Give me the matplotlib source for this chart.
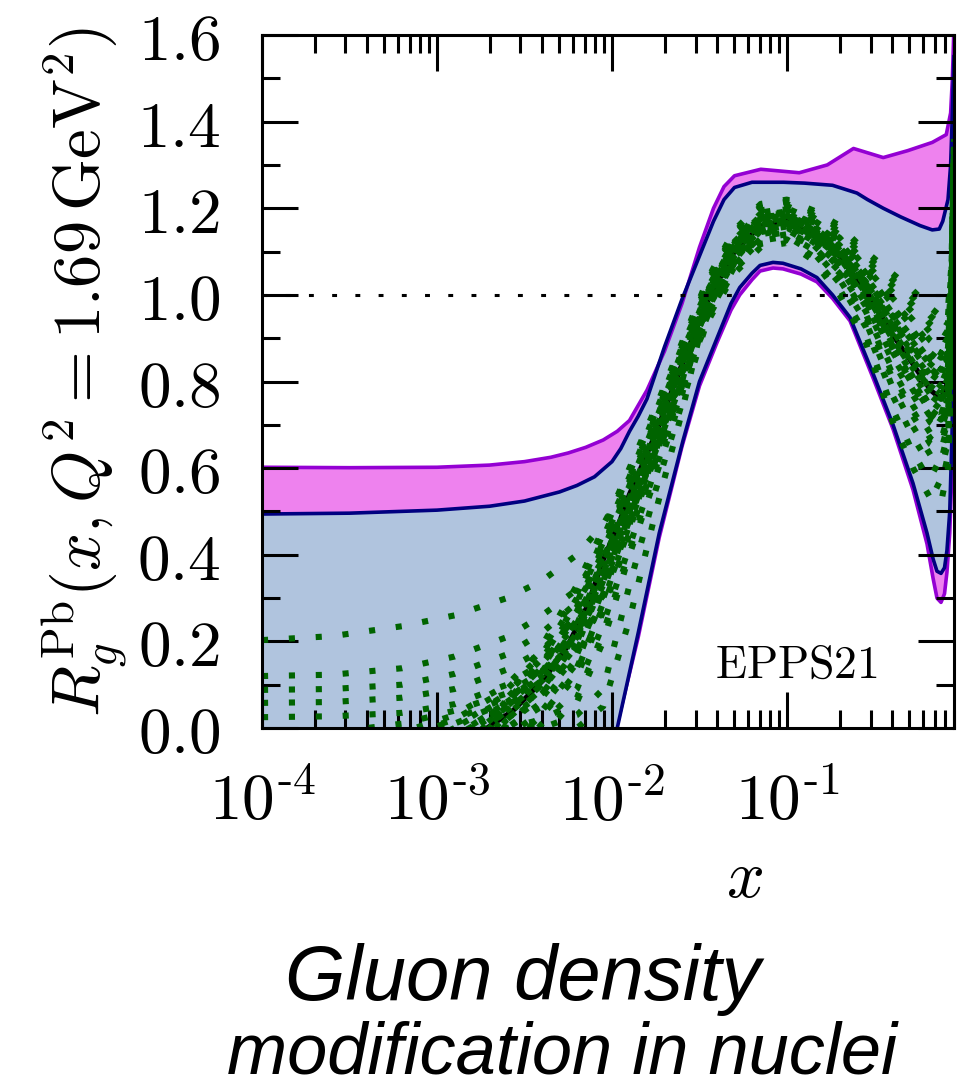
import numpy as np
import matplotlib
matplotlib.use("Agg")
import matplotlib.pyplot as plt
from matplotlib.ticker import FixedLocator, LogLocator, NullFormatter

plt.rcParams['mathtext.fontset'] = 'cm'

# ---------------- data (x given as log10 x) ----------------
# outer (magenta) band
mag_hi_logx = [-4.0, -3.5, -3.0, -2.7, -2.5, -2.35, -2.25, -2.15, -2.05, -1.97, -1.9, -1.8,
               -1.7, -1.6, -1.5, -1.42, -1.36, -1.3, -1.15, -0.93, -0.77, -0.62, -0.45,
               -0.31, -0.17, -0.09, -0.065, -0.055, -0.046]
mag_hi = [0.602, 0.601, 0.602, 0.607, 0.615, 0.625, 0.635, 0.648, 0.665, 0.685, 0.71, 0.78,
          0.87, 0.98, 1.11, 1.20, 1.25, 1.275, 1.29, 1.282, 1.30, 1.338, 1.317,
          1.333, 1.352, 1.37, 1.42, 1.50, 1.62]
mag_lo_logx = [-4.0, -3.0, -2.5, -2.2, -2.05, -1.975, -1.85, -1.73, -1.6, -1.5, -1.4, -1.32,
               -1.27, -1.2, -1.154, -1.08, -1.023, -0.92, -0.829, -0.74, -0.64, -0.51, -0.394,
               -0.28, -0.20, -0.165, -0.143, -0.12, -0.1, -0.086, -0.07, -0.057, -0.046]
mag_lo = [-3.0, -1.8, -0.8, -0.35, -0.1, 0.0, 0.21, 0.44, 0.65, 0.79, 0.89, 0.965,
          1.0, 1.035, 1.055, 1.062, 1.06, 1.048, 1.03, 0.992, 0.94, 0.81, 0.69,
          0.55, 0.425, 0.345, 0.30, 0.29, 0.31, 0.36, 0.45, 0.60, 0.99]

# inner (blue) band
blu_hi_logx = [-4.0, -3.5, -3.0, -2.7, -2.5, -2.3, -2.2, -2.1, -2.0, -1.95, -1.9, -1.85,
               -1.8, -1.7, -1.6, -1.5, -1.42, -1.36, -1.3, -1.2, -1.02, -0.9, -0.74,
               -0.6, -0.54, -0.45, -0.35, -0.24, -0.17, -0.13, -0.11, -0.08, -0.065,
               -0.055, -0.046]
blu_hi = [0.494, 0.496, 0.503, 0.512, 0.524, 0.545, 0.56, 0.58, 0.615, 0.645, 0.685, 0.72,
          0.76, 0.88, 0.99, 1.09, 1.17, 1.22, 1.248, 1.26, 1.26, 1.258, 1.253,
          1.235, 1.22, 1.20, 1.18, 1.16, 1.15, 1.152, 1.17, 1.22, 1.30,
          1.42, 1.55]
blu_lo_logx = [-4.0, -3.0, -2.5, -2.2, -2.05, -1.97, -1.85, -1.73, -1.594, -1.5, -1.4, -1.32,
               -1.27, -1.2, -1.154, -1.08, -1.023, -0.92, -0.829, -0.74, -0.64, -0.51, -0.394,
               -0.28, -0.20, -0.165, -0.143, -0.12, -0.1, -0.086, -0.07, -0.057, -0.046]
blu_lo = [-3.0, -1.8, -0.8, -0.35, -0.1, 0.0, 0.22, 0.45, 0.664, 0.80, 0.90, 0.98,
          1.017, 1.05, 1.068, 1.075, 1.073, 1.06, 1.04, 1.0, 0.948, 0.82, 0.70,
          0.565, 0.45, 0.39, 0.362, 0.357, 0.37, 0.41, 0.50, 0.68, 0.99]

# central fit
central_logx = [-4.0, -3.6, -3.2, -2.9, -2.714, -2.566, -2.394, -2.257, -2.143, -2.051, -1.954,
                -1.9, -1.75, -1.6, -1.45, -1.3, -1.15, -1.0, -0.85, -0.7, -0.55, -0.4,
                -0.28, -0.18, -0.12, -0.08, -0.06, -0.046]
central = [-1.2, -0.9, -0.5, -0.08, 0.0, 0.04, 0.11, 0.187, 0.28, 0.387, 0.48,
           0.54, 0.68, 0.84, 0.99, 1.10, 1.16, 1.17, 1.14, 1.09, 1.01, 0.91,
           0.84, 0.78, 0.76, 0.80, 0.95, 1.30]

# error-set members (green dotted)
members_logx = [-4.0, -3.6, -3.2, -2.9, -2.6, -2.4, -2.2, -2.05, -1.9, -1.75, -1.6,
                -1.45, -1.3, -1.15, -1.0, -0.85, -0.7, -0.55, -0.4, -0.28, -0.18, -0.12,
                -0.08, -0.06, -0.046]
member_01 = [0.203, 0.212, 0.235, 0.26, 0.30, 0.34, 0.40, 0.47, 0.58, 0.72, 0.88,
             1.035, 1.145, 1.205, 1.215, 1.19, 1.153, 1.091, 1.036, 0.993, 0.951, 0.931,
             0.953, 1.058, 1.354]
member_02 = [0.12, 0.123, 0.138, 0.165, 0.21, 0.26, 0.32, 0.42, 0.55, 0.69, 0.85,
             1.015, 1.125, 1.185, 1.195, 1.168, 1.125, 1.055, 0.98, 0.925, 0.875, 0.855,
             0.885, 1.01, 1.33]
member_03 = [0.088, 0.09, 0.10, 0.125, 0.17, 0.22, 0.29, 0.39, 0.52, 0.67, 0.83,
             0.975, 1.085, 1.145, 1.155, 1.122, 1.063, 0.974, 0.85, 0.768, 0.705, 0.688,
             0.74, 0.908, 1.279]
member_04 = [0.058, 0.06, 0.07, 0.09, 0.135, 0.18, 0.26, 0.37, 0.51, 0.66, 0.82,
             1.0, 1.11, 1.17, 1.18, 1.151, 1.104, 1.028, 0.938, 0.874, 0.818, 0.798,
             0.834, 0.974, 1.312]
member_05 = [0.025, 0.027, 0.035, 0.055, 0.10, 0.15, 0.24, 0.36, 0.50, 0.65, 0.81,
             0.955, 1.065, 1.125, 1.135, 1.098, 1.027, 0.926, 0.77, 0.672, 0.605, 0.592,
             0.66, 0.852, 1.251]
member_06 = [-0.03, -0.01, 0.01, 0.04, 0.08, 0.13, 0.22, 0.34, 0.49, 0.64, 0.80,
             1.025, 1.135, 1.195, 1.205, 1.179, 1.139, 1.073, 1.008, 0.959, 0.913, 0.893,
             0.919, 1.034, 1.342]
member_07 = [-0.12, -0.07, -0.02, 0.02, 0.07, 0.12, 0.21, 0.33, 0.48, 0.64, 0.80,
             0.94, 1.05, 1.11, 1.12, 1.08, 1.0, 0.89, 0.71, 0.60, 0.53, 0.52,
             0.60, 0.81, 1.23]
member_08 = [-0.3, -0.2, -0.1, -0.02, 0.05, 0.11, 0.22, 0.35, 0.50, 0.66, 0.82,
             0.99, 1.10, 1.16, 1.17, 1.14, 1.09, 1.01, 0.91, 0.84, 0.78, 0.76,
             0.80, 0.95, 1.30]
member_09 = [-0.8, -0.6, -0.35, -0.1, 0.06, 0.16, 0.28, 0.42, 0.56, 0.70, 0.86,
             0.965, 1.075, 1.135, 1.145, 1.11, 1.045, 0.95, 0.81, 0.72, 0.655, 0.64,
             0.70, 0.88, 1.265]
member_10 = [-1.0, -0.75, -0.45, -0.15, 0.07, 0.19, 0.33, 0.46, 0.60, 0.74, 0.89,
             1.04, 1.15, 1.21, 1.22, 1.195, 1.16, 1.10, 1.05, 1.01, 0.97, 0.95,
             0.97, 1.07, 1.36]
member_11 = [-1.5, -1.0, -0.55, -0.25, -0.05, 0.03, 0.12, 0.27, 0.45, 0.62, 0.79,
             0.98, 1.09, 1.15, 1.16, 1.128, 1.072, 0.986, 0.87, 0.792, 0.73, 0.712,
             0.76, 0.922, 1.286]
member_12 = [-1.2, -0.8, -0.4, -0.15, 0.0, 0.02, 0.06, 0.20, 0.40, 0.58, 0.77,
             1.01, 1.12, 1.18, 1.19, 1.162, 1.118, 1.046, 0.966, 0.908, 0.856, 0.836,
             0.868, 0.998, 1.324]
member_13 = [-1.8, -1.3, -0.8, -0.4, -0.1, 0.0, 0.03, 0.09, 0.33, 0.55, 0.75,
             0.948, 1.058, 1.118, 1.128, 1.089, 1.014, 0.908, 0.74, 0.636, 0.568, 0.556,
             0.63, 0.831, 1.24]
member_14 = [-2.2, -1.6, -1.0, -0.6, -0.25, -0.05, 0.0, 0.05, 0.25, 0.50, 0.73,
             0.995, 1.105, 1.165, 1.175, 1.146, 1.097, 1.019, 0.924, 0.857, 0.799, 0.779,
             0.817, 0.962, 1.306]
member_15 = [-0.5, -0.35, -0.18, -0.05, 0.04, 0.10, 0.20, 0.33, 0.49, 0.66, 0.83,
             1.005, 1.115, 1.175, 1.185, 1.157, 1.111, 1.037, 0.952, 0.891, 0.837, 0.817,
             0.851, 0.986, 1.318]
member_16 = [-0.9, -0.65, -0.35, -0.12, 0.02, 0.08, 0.18, 0.31, 0.47, 0.64, 0.82,
             0.985, 1.095, 1.155, 1.165, 1.134, 1.081, 0.998, 0.89, 0.816, 0.755, 0.736,
             0.78, 0.936, 1.293]
member_17 = [-0.2, -0.12, -0.05, 0.01, 0.06, 0.12, 0.24, 0.38, 0.53, 0.69, 0.85,
             1.02, 1.13, 1.19, 1.20, 1.173, 1.132, 1.064, 0.994, 0.942, 0.894, 0.874,
             0.902, 1.022, 1.336]
member_18 = [-1.3, -0.9, -0.5, -0.2, 0.0, 0.06, 0.16, 0.30, 0.46, 0.63, 0.80,
             0.97, 1.08, 1.14, 1.15, 1.116, 1.054, 0.962, 0.83, 0.744, 0.68, 0.664,
             0.72, 0.894, 1.272]
member_19 = [-0.6, -0.4, -0.2, -0.05, 0.05, 0.12, 0.23, 0.37, 0.52, 0.68, 0.84,
             0.998, 1.108, 1.168, 1.178, 1.148, 1.1, 1.024, 0.931, 0.866, 0.809, 0.789,
             0.826, 0.968, 1.309]
member_20 = [-1.6, -1.1, -0.6, -0.3, -0.08, 0.01, 0.09, 0.24, 0.42, 0.60, 0.78,
             0.96, 1.07, 1.13, 1.14, 1.104, 1.036, 0.938, 0.79, 0.696, 0.63, 0.616,
             0.68, 0.866, 1.258]
member_21 = [-0.4, -0.28, -0.14, -0.03, 0.06, 0.14, 0.26, 0.40, 0.55, 0.70, 0.86,
             1.013, 1.123, 1.183, 1.193, 1.165, 1.122, 1.051, 0.973, 0.917, 0.866, 0.846,
             0.877, 1.004, 1.327]
member_22 = [-1.1, -0.8, -0.45, -0.18, 0.01, 0.07, 0.17, 0.32, 0.48, 0.65, 0.82,
             0.978, 1.088, 1.148, 1.158, 1.125, 1.068, 0.98, 0.86, 0.78, 0.718, 0.70,
             0.75, 0.915, 1.283]
member_23 = [-0.7, -0.5, -0.25, -0.08, 0.04, 0.11, 0.21, 0.36, 0.51, 0.67, 0.84,
             0.993, 1.103, 1.163, 1.173, 1.143, 1.094, 1.015, 0.917, 0.849, 0.79, 0.77,
             0.809, 0.956, 1.303]
member_24 = [-0.25, -0.15, -0.06, 0.0, 0.08, 0.16, 0.29, 0.43, 0.57, 0.72, 0.87,
             1.03, 1.14, 1.20, 1.21, 1.184, 1.146, 1.082, 1.022, 0.976, 0.932, 0.912,
             0.936, 1.046, 1.348]
member_25 = [-1.0, -0.7, -0.38, -0.14, 0.02, 0.09, 0.19, 0.34, 0.50, 0.66, 0.83,
             0.983, 1.093, 1.153, 1.163, 1.131, 1.077, 0.992, 0.88, 0.804, 0.743, 0.724,
             0.77, 0.929, 1.29]
member_26 = [-0.35, -0.22, -0.1, -0.02, 0.06, 0.13, 0.25, 0.39, 0.54, 0.70, 0.86,
             1.008, 1.118, 1.178, 1.188, 1.159, 1.115, 1.042, 0.959, 0.90, 0.847, 0.827,
             0.86, 0.992, 1.321]
member_27 = [-1.4, -1.0, -0.55, -0.25, -0.02, 0.04, 0.14, 0.28, 0.45, 0.62, 0.80,
             0.968, 1.078, 1.138, 1.148, 1.113, 1.05, 0.956, 0.82, 0.732, 0.668, 0.652,
             0.71, 0.887, 1.269]
member_28 = [-0.55, -0.38, -0.2, -0.06, 0.05, 0.13, 0.25, 0.38, 0.53, 0.69, 0.85,
             1.003, 1.113, 1.173, 1.183, 1.154, 1.108, 1.033, 0.945, 0.883, 0.828, 0.808,
             0.843, 0.98, 1.315]
member_29 = [-0.85, -0.6, -0.32, -0.1, 0.03, 0.10, 0.22, 0.36, 0.51, 0.67, 0.84,
             0.988, 1.098, 1.158, 1.168, 1.137, 1.086, 1.004, 0.90, 0.828, 0.768, 0.748,
             0.79, 0.943, 1.297]
member_30 = [-0.15, -0.09, -0.03, 0.02, 0.09, 0.17, 0.30, 0.44, 0.58, 0.73, 0.88,
             1.018, 1.128, 1.188, 1.198, 1.17, 1.129, 1.06, 0.987, 0.934, 0.885, 0.865,
             0.894, 1.016, 1.333]
member_31 = [-0.45, -0.3, -0.15, -0.03, 0.05, 0.12, 0.24, 0.39, 0.54, 0.69, 0.85,
             1.01, 1.12, 1.17, 1.17, 1.13, 1.07, 0.99, 0.90, 0.83, 0.77, 0.75,
             0.79, 0.94, 1.29]
member_32 = [-1.1, -0.8, -0.45, -0.15, 0.01, 0.08, 0.19, 0.34, 0.50, 0.67, 0.84,
             0.97, 1.08, 1.15, 1.175, 1.155, 1.11, 1.03, 0.93, 0.855, 0.79, 0.77,
             0.81, 0.955, 1.30]
member_33 = [-0.3, -0.2, -0.09, 0.0, 0.07, 0.15, 0.27, 0.41, 0.56, 0.71, 0.87,
             1.0, 1.115, 1.178, 1.19, 1.16, 1.105, 1.02, 0.90, 0.81, 0.74, 0.72,
             0.77, 0.93, 1.29]
member_34 = [-1.5, -1.1, -0.6, -0.3, -0.04, 0.03, 0.13, 0.29, 0.47, 0.64, 0.81,
             0.98, 1.09, 1.15, 1.16, 1.135, 1.095, 1.03, 0.95, 0.89, 0.84, 0.82,
             0.85, 0.98, 1.31]
member_35 = [-0.1, -0.06, -0.01, 0.03, 0.10, 0.18, 0.31, 0.45, 0.59, 0.73, 0.88,
             1.02, 1.125, 1.18, 1.185, 1.15, 1.09, 1.0, 0.88, 0.79, 0.72, 0.70,
             0.75, 0.91, 1.28]
member_36 = [-2.0, -1.4, -0.9, -0.5, -0.15, -0.02, 0.07, 0.22, 0.41, 0.60, 0.79,
             0.96, 1.075, 1.14, 1.16, 1.14, 1.10, 1.035, 0.955, 0.90, 0.85, 0.83,
             0.86, 0.99, 1.32]
member_37 = [-0.65, -0.45, -0.22, -0.06, 0.04, 0.11, 0.22, 0.37, 0.52, 0.68, 0.85,
             1.005, 1.11, 1.17, 1.18, 1.15, 1.1, 1.025, 0.935, 0.87, 0.815, 0.795,
             0.83, 0.97, 1.31]
member_38 = [-0.95, -0.7, -0.38, -0.12, 0.02, 0.09, 0.20, 0.35, 0.51, 0.67, 0.84,
             0.985, 1.1, 1.162, 1.17, 1.138, 1.085, 1.0, 0.885, 0.80, 0.735, 0.715,
             0.76, 0.92, 1.285]
member_39 = [-0.38, -0.25, -0.12, -0.02, 0.06, 0.14, 0.27, 0.42, 0.57, 0.71, 0.86,
             1.01, 1.118, 1.176, 1.182, 1.15, 1.1, 1.026, 0.94, 0.88, 0.83, 0.81,
             0.845, 0.98, 1.315]
member_40 = [-1.25, -0.9, -0.5, -0.2, 0.0, 0.05, 0.15, 0.31, 0.48, 0.65, 0.82,
             0.975, 1.088, 1.152, 1.166, 1.14, 1.092, 1.018, 0.92, 0.845, 0.78, 0.755,
             0.795, 0.945, 1.298]
members = [member_01, member_02, member_03, member_04, member_05, member_06, member_07,
           member_08, member_09, member_10, member_11, member_12, member_13, member_14,
           member_15, member_16, member_17, member_18, member_19, member_20, member_21,
           member_22, member_23, member_24, member_25, member_26, member_27, member_28,
           member_29, member_30, member_31, member_32, member_33, member_34, member_35,
           member_36, member_37, member_38, member_39, member_40]

x_ticks = [1e-4, 1e-3, 1e-2, 1e-1]
x_tick_labels = [r'$10^{\text{-}4}$', r'$10^{\text{-}3}$', r'$10^{\text{-}2}$', r'$10^{\text{-}1}$']
y_ticks = [0.0, 0.2, 0.4, 0.6, 0.8, 1.0, 1.2, 1.4, 1.6]
y_tick_labels = [r'$0.0$', r'$0.2$', r'$0.4$', r'$0.6$', r'$0.8$', r'$1.0$', r'$1.2$', r'$1.4$', r'$1.6$']

# ---------------- plotting ----------------
def tx(v):
    return np.power(10.0, np.asarray(v, dtype=float))

W, H = 974, 1089
fig = plt.figure(figsize=(W / 100, H / 100), dpi=100)
ax = fig.add_axes([262 / W, 1 - 728 / H, (954 - 262) / W, (728 - 35) / H])
ax.set_xscale('log')

MAG_FILL, MAG_EDGE = '#EE82EE', '#9400D3'
BLU_FILL, BLU_EDGE = '#B0C4DE', '#000080'
GREEN = '#006400'

ax.fill(np.concatenate([tx(mag_hi_logx), tx(mag_lo_logx)[::-1]]),
        np.concatenate([mag_hi, mag_lo[::-1]]), color=MAG_FILL, lw=0, zorder=1)
ax.plot(tx(mag_lo_logx), mag_lo, color=MAG_EDGE, lw=2.6, zorder=1.2)
ax.fill(np.concatenate([tx(blu_hi_logx), tx(blu_lo_logx)[::-1]]),
        np.concatenate([blu_hi, blu_lo[::-1]]), color=BLU_FILL, lw=0, zorder=1.3)
ax.plot(tx(mag_hi_logx), mag_hi, color=MAG_EDGE, lw=2.6, zorder=1.4)
ax.plot(tx(blu_hi_logx), blu_hi, color=BLU_EDGE, lw=2.6, zorder=1.5)
ax.plot(tx(blu_lo_logx), blu_lo, color=BLU_EDGE, lw=2.6, zorder=1.5)

ax.plot(tx(central_logx), central, color='black', lw=3.6, zorder=1.6)
for m in members:
    ax.plot(tx(members_logx), m, color=GREEN, lw=4.4, dashes=(1, 3.4),
            dash_capstyle='butt', zorder=1.7)

ax.axhline(1.0, color='black', lw=2.2, dashes=(1.6, 6.0), zorder=1.8)

ax.set_xlim(1e-4, 0.9)
ax.set_ylim(0, 1.6)

ax.xaxis.set_major_locator(FixedLocator(x_ticks))
ax.set_xticklabels(x_tick_labels)
ax.xaxis.set_minor_locator(LogLocator(base=10, subs=np.arange(2, 10), numticks=30))
ax.xaxis.set_minor_formatter(NullFormatter())
ax.yaxis.set_major_locator(FixedLocator(y_ticks))
ax.set_yticklabels(y_tick_labels)
ax.yaxis.set_minor_locator(FixedLocator([0.1, 0.3, 0.5, 0.7, 0.9, 1.1, 1.3, 1.5]))

ax.tick_params(which='both', direction='in', top=True, right=True, width=2.2, color='black')
ax.tick_params(which='major', length=26, pad=30, labelsize=47)
ax.tick_params(which='minor', length=13)
for s in ax.spines.values():
    s.set_linewidth(2.2)

ax.text(0.773, 0.09, r'$\mathrm{EPPS21}$', transform=ax.transAxes, fontsize=33,
        ha='center', va='center')

fig.text(85 / W, 1 - 372 / H, r'$R_g^{\mathrm{Pb}}(x,Q^2=1.69\,\mathrm{GeV}^2)$',
         rotation=90, fontsize=48, ha='center', va='center')
fig.text(745 / W, 1 - 878 / H, r'$x$', fontsize=48, ha='center', va='center')

fig.text(523 / W, 1 - 1000 / H, 'Gluon density', fontsize=56, style='italic',
         family='Liberation Sans', ha='center', va='baseline')
fig.text(562 / W, 1 - 1073 / H, 'modification in nuclei', fontsize=52, style='italic',
         family='Liberation Sans', ha='center', va='baseline')

fig.savefig('out.png', dpi=100)
